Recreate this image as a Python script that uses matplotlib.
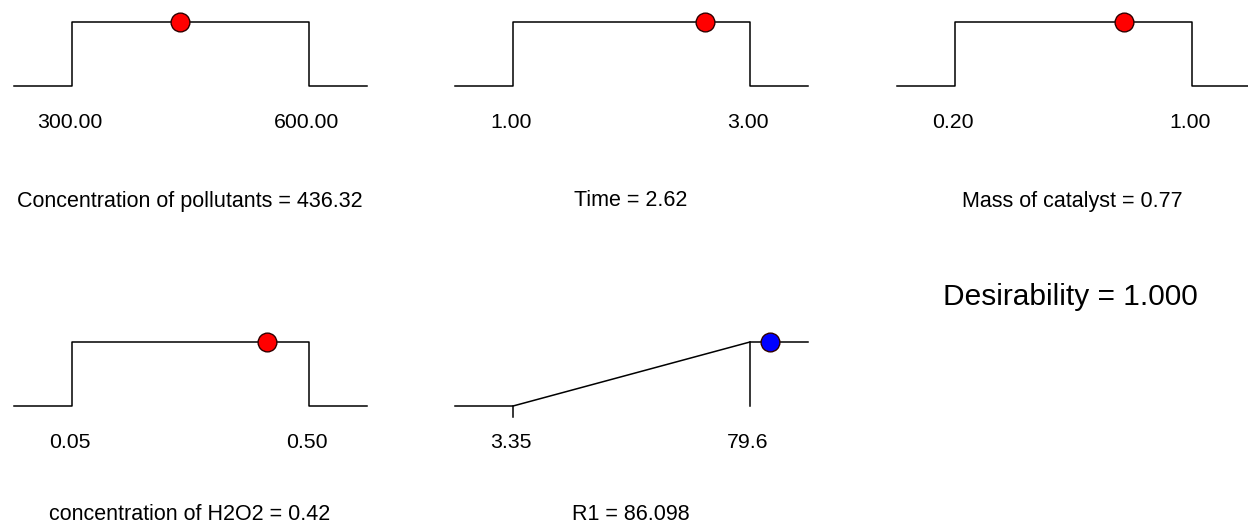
import matplotlib.pyplot as plt

plt.rcParams['font.family'] = ['Liberation Sans', 'DejaVu Sans']

# factor settings (ramps) and the response
names = ["Concentration of pollutants", "Time", "Mass of catalyst",
         "concentration of H2O2", "R1"]
lows = [300.0, 1.0, 0.20, 0.05, 3.35]
highs = [600.0, 3.0, 1.00, 0.50, 79.6]
low_labels = ["300.00", "1.00", "0.20", "0.05", "3.35"]
high_labels = ["600.00", "3.00", "1.00", "0.50", "79.6"]
values = [436.32, 2.62, 0.77, 0.42, 86.098]
value_labels = ["436.32", "2.62", "0.77", "0.42", "86.098"]
kinds = ["range", "range", "range", "range", "max"]
desirability = 1.000

W, H = 1248, 529
fig = plt.figure(figsize=(W / 100, H / 100), dpi=100)

# panel positions in pixels: left edge, y of the d=0 line, title drop
lefts = [14, 455, 897, 14, 455]
bases = [86, 86, 86, 406, 406]
drops = [115, 115, 115, 109, 109]
pw, ph = 353, 64
ext = 0.245  # how far the flat parts run past the limits

for i in range(5):
    ax = fig.add_axes([lefts[i] / W, (H - bases[i]) / H, pw / W, ph / H])
    lo, hi = lows[i], highs[i]
    span = hi - lo
    xmin, xmax = lo - ext * span, hi + ext * span
    ax.set_xlim(xmin, xmax)
    ax.set_ylim(0, 1)
    ax.axis('off')

    if kinds[i] == "range":
        xs = [xmin, lo, lo, hi, hi, xmax]
        ys = [0, 0, 1, 1, 0, 0]
        ax.plot(xs, ys, color='black', lw=1.1, clip_on=False)
        col = 'red'
    else:
        ax.plot([xmin, lo, hi, xmax], [0, 0, 1, 1], color='black', lw=1.1,
                clip_on=False)
        ax.plot([lo, lo], [0, -0.17], color='black', lw=1.1, clip_on=False)
        ax.plot([hi, hi], [1, 0], color='black', lw=1.1, clip_on=False)
        col = 'blue'

    ax.plot([values[i]], [1], 'o', ms=13.5, mfc=col, mec='#300000', mew=1,
            clip_on=False, zorder=5)

    ax.annotate(low_labels[i], xy=(lo, 0), xytext=(-2, -36),
                textcoords='offset pixels', ha='center', va='center',
                fontsize=15.3)
    ax.annotate(high_labels[i], xy=(hi, 0), xytext=(-2, -36),
                textcoords='offset pixels', ha='center', va='center',
                fontsize=15.3)
    ax.annotate(names[i] + " = " + value_labels[i],
                xy=((xmin + xmax) / 2, 0), xytext=(-1, -drops[i]),
                textcoords='offset pixels', ha='center', va='center',
                fontsize=15.5)

fig.text(1070 / W, 1 - 297 / H, "Desirability = %.3f" % desirability,
         ha='center', va='center', fontsize=21.5)

fig.savefig("out.png", dpi=100)
